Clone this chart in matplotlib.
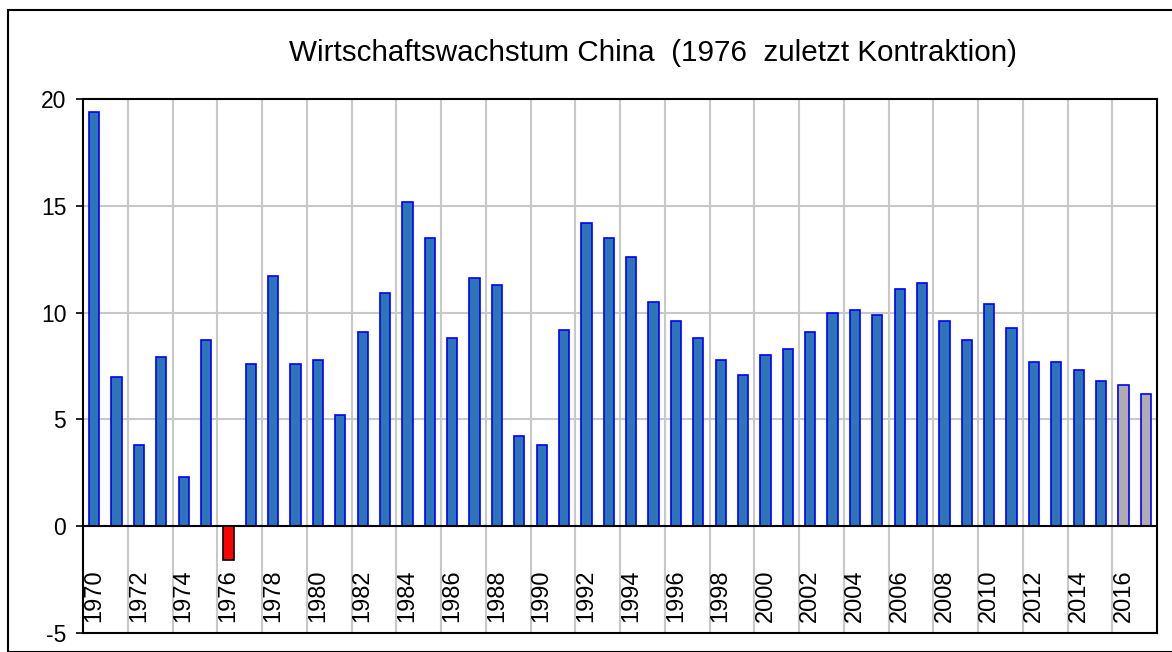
import matplotlib.pyplot as plt
from matplotlib.patches import Rectangle

years = list(range(1970, 2018))
growth = [19.4, 7.0, 3.8, 7.9, 2.3, 8.7, -1.6, 7.6, 11.7, 7.6,
          7.8, 5.2, 9.1, 10.9, 15.2, 13.5, 8.8, 11.6, 11.3, 4.2,
          3.8, 9.2, 14.2, 13.5, 12.6, 10.5, 9.6, 8.8, 7.8, 7.1,
          8.0, 8.3, 9.1, 10.0, 10.1, 9.9, 11.1, 11.4, 9.6, 8.7,
          10.4, 9.3, 7.7, 7.7, 7.3, 6.8, 6.6, 6.2]
# 2016/2017 grau (Prognose), 1976 rot (Kontraktion)
gray_years = [2016, 2017]
y_ticks = [-5, 0, 5, 10, 15, 20]

plt.rcParams['font.family'] = ['Liberation Sans', 'DejaVu Sans']

fig = plt.figure(figsize=(11.72, 6.52), dpi=100)
ax = fig.add_axes([83 / 1172, 19 / 652, 1074 / 1172, 534 / 652])

# Rahmen um die Grafik
fig.patches.append(Rectangle((8 / 1172, 0), 1.0, 642 / 652, transform=fig.transFigure,
                             fill=False, edgecolor='black', linewidth=1.5, zorder=0))

x = list(range(len(years)))
colors = []
edges = []
for yr, v in zip(years, growth):
    if v < 0:
        colors.append('#ff0000')
        edges.append('black')
    elif yr in gray_years:
        colors.append('#b0acac')
        edges.append('#0000ff')
    else:
        colors.append('#2e75b6')
        edges.append('#0000ff')

ax.bar(x, growth, width=0.46, color=colors, edgecolor=edges, linewidth=1.2, zorder=3)

ax.set_xlim(-0.5, len(years) - 0.5)
ax.set_ylim(-5, 20)
ax.set_yticks(y_ticks)
ax.set_yticklabels([str(t) for t in y_ticks], fontsize=16.5)
ax.tick_params(axis='y', direction='out', length=5, width=1.2, pad=7)
ax.set_xticks([])

# Gitter
for yv in [5, 10, 15]:
    ax.axhline(yv, color='#c8c8c8', linewidth=1.5, zorder=1)
for i in range(1, len(years) - 1, 2):
    ax.axvline(i + 0.5, color='#c8c8c8', linewidth=1.5, zorder=1)
ax.axhline(0, color='black', linewidth=1.5, zorder=4)

for s in ax.spines.values():
    s.set_linewidth(1.5)

# Jahreszahlen im Diagramm
for i, yr in enumerate(years):
    if yr % 2 == 0:
        ax.text(i, -4.5, str(yr), rotation=90, ha='center', va='bottom', fontsize=17, zorder=5)

fig.text(653 / 1172, 1 - 53 / 652, 'Wirtschaftswachstum China  (1976  zuletzt Kontraktion)',
         ha='center', va='center', fontsize=21.3)

plt.savefig('out.png', dpi=100)
